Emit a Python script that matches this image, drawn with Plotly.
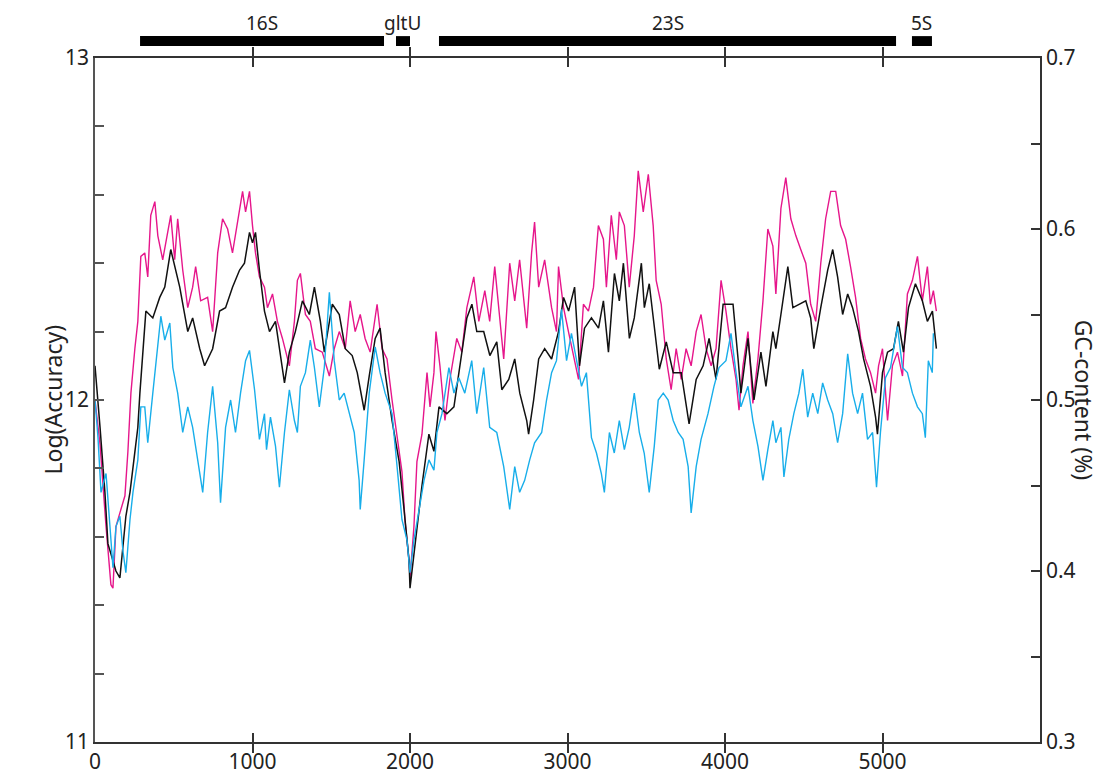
import plotly.graph_objects as go

# ---------------- data ----------------
black_x = [0, 6, 32, 63, 82, 114, 133, 158, 177, 196, 222, 241, 272, 285, 323, 367, 411, 443, 481, 538,
           589, 620, 665, 696, 747, 791, 829, 873, 918, 949, 981, 1000, 1019, 1044, 1076, 1108, 1146, 1203, 1234, 1272,
           1317, 1361, 1393, 1431, 1456, 1507, 1551, 1589, 1633, 1665, 1709, 1741, 1779, 1810, 1842, 1886, 1931, 1962, 1994, 2000,
           2032, 2076, 2120, 2152, 2184, 2234, 2279, 2317, 2361, 2393, 2424, 2468, 2507, 2551, 2583, 2627, 2665, 2697, 2741, 2753,
           2785, 2817, 2855, 2899, 2943, 2975, 3007, 3045, 3076, 3108, 3152, 3197, 3228, 3260, 3298, 3329, 3355, 3393, 3424, 3469,
           3488, 3519, 3551, 3583, 3627, 3671, 3722, 3772, 3817, 3861, 3899, 3943, 3988, 4051, 4083, 4101, 4146, 4184, 4228, 4260,
           4304, 4323, 4355, 4399, 4431, 4469, 4513, 4544, 4564, 4608, 4652, 4684, 4715, 4747, 4779, 4810, 4848, 4880, 4924, 4956,
           4968, 5000, 5032, 5070, 5101, 5133, 5165, 5209, 5253, 5285, 5317, 5342]
black_y = [12.10, 12.07, 11.92, 11.73, 11.58, 11.53, 11.50, 11.48, 11.58, 11.66, 11.73, 11.80, 11.92, 12.02, 12.26, 12.24, 12.30, 12.33, 12.44, 12.33,
           12.20, 12.24, 12.15, 12.10, 12.15, 12.26, 12.27, 12.33, 12.38, 12.40, 12.49, 12.46, 12.49, 12.38, 12.26, 12.20, 12.23, 12.05, 12.14, 12.20,
           12.29, 12.25, 12.33, 12.23, 12.14, 12.28, 12.25, 12.15, 12.13, 12.08, 11.97, 12.07, 12.18, 12.21, 12.08, 11.94, 11.82, 11.68, 11.53, 11.45,
           11.58, 11.75, 11.90, 11.85, 11.98, 11.96, 11.98, 12.10, 12.24, 12.28, 12.20, 12.20, 12.13, 12.17, 12.03, 12.06, 12.12, 12.02, 11.94, 11.90,
           12.00, 12.12, 12.15, 12.12, 12.20, 12.30, 12.26, 12.33, 12.10, 12.21, 12.24, 12.21, 12.29, 12.14, 12.37, 12.29, 12.40, 12.18, 12.24, 12.40,
           12.27, 12.34, 12.21, 12.09, 12.17, 12.08, 12.08, 11.93, 12.06, 12.10, 12.18, 12.06, 12.28, 12.28, 12.12, 12.02, 12.18, 12.00, 12.14, 12.04,
           12.20, 12.15, 12.25, 12.39, 12.27, 12.28, 12.29, 12.24, 12.15, 12.27, 12.38, 12.44, 12.36, 12.25, 12.31, 12.27, 12.20, 12.12, 12.04, 11.95,
           11.90, 12.08, 12.14, 12.15, 12.23, 12.14, 12.27, 12.34, 12.29, 12.23, 12.26, 12.15]

magenta_x = [0, 32, 70, 101, 114, 133, 158, 190, 209, 228, 253, 272, 291, 316, 335, 354, 380, 399, 430, 462,
             481, 506, 525, 557, 589, 620, 639, 671, 715, 747, 779, 810, 842, 873, 918, 937, 956, 981, 1000, 1019,
             1044, 1076, 1095, 1127, 1158, 1190, 1234, 1266, 1285, 1304, 1336, 1367, 1399, 1443, 1488, 1519, 1551, 1589, 1620, 1652,
             1684, 1715, 1747, 1791, 1823, 1854, 1886, 1918, 1949, 1968, 1994, 2000, 2025, 2044, 2076, 2108, 2127, 2152, 2165, 2190,
             2222, 2253, 2297, 2329, 2361, 2405, 2437, 2475, 2506, 2538, 2570, 2595, 2633, 2665, 2696, 2741, 2772, 2791, 2817, 2855,
             2899, 2930, 2943, 2975, 3006, 3070, 3101, 3133, 3165, 3196, 3228, 3247, 3278, 3310, 3329, 3361, 3392, 3424, 3449, 3481,
             3513, 3544, 3563, 3595, 3627, 3658, 3690, 3722, 3753, 3785, 3817, 3848, 3880, 3912, 3943, 3975, 4006, 4038, 4070, 4089,
             4114, 4146, 4177, 4209, 4241, 4272, 4304, 4323, 4355, 4386, 4418, 4450, 4481, 4513, 4544, 4576, 4608, 4639, 4671, 4703,
             4734, 4766, 4797, 4829, 4861, 4892, 4924, 4956, 4975, 5000, 5032, 5063, 5095, 5127, 5158, 5190, 5222, 5253, 5285, 5304,
             5323, 5342]
magenta_y = [12.00, 11.87, 11.63, 11.46, 11.45, 11.63, 11.67, 11.72, 11.85, 12.02, 12.15, 12.23, 12.42, 12.43, 12.36, 12.54, 12.58, 12.48, 12.41, 12.50,
             12.54, 12.41, 12.53, 12.38, 12.27, 12.33, 12.39, 12.29, 12.30, 12.20, 12.43, 12.53, 12.50, 12.43, 12.55, 12.61, 12.55, 12.61, 12.51, 12.43,
             12.36, 12.33, 12.27, 12.31, 12.23, 12.18, 12.10, 12.23, 12.35, 12.37, 12.25, 12.23, 12.15, 12.14, 12.07, 12.15, 12.20, 12.15, 12.29, 12.20,
             12.25, 12.18, 12.14, 12.28, 12.15, 12.12, 12.00, 11.90, 11.79, 11.65, 11.53, 11.48, 11.63, 11.82, 11.90, 12.08, 11.98, 12.08, 12.20, 12.10,
             11.94, 12.06, 12.18, 12.14, 12.27, 12.36, 12.23, 12.32, 12.23, 12.39, 12.25, 12.12, 12.40, 12.29, 12.41, 12.21, 12.43, 12.52, 12.33, 12.41,
             12.27, 12.20, 12.39, 12.27, 12.20, 12.06, 12.28, 12.26, 12.33, 12.51, 12.47, 12.33, 12.54, 12.41, 12.55, 12.51, 12.33, 12.48, 12.67, 12.55,
             12.66, 12.51, 12.35, 12.28, 12.12, 12.03, 12.15, 12.06, 12.15, 12.10, 12.20, 12.25, 12.15, 12.10, 12.15, 12.35, 12.26, 12.15, 12.06, 11.97,
             12.10, 12.20, 11.99, 12.12, 12.29, 12.50, 12.45, 12.31, 12.56, 12.65, 12.53, 12.48, 12.44, 12.40, 12.28, 12.23, 12.40, 12.53, 12.61, 12.61,
             12.51, 12.47, 12.39, 12.30, 12.18, 12.12, 12.08, 12.02, 12.10, 12.15, 11.94, 12.10, 12.14, 12.07, 12.31, 12.35, 12.42, 12.29, 12.39, 12.28,
             12.32, 12.26]

cyan_x = [0, 19, 38, 70, 95, 114, 133, 158, 177, 196, 222, 241, 272, 291, 316, 335, 367, 399, 418, 443,
          475, 494, 525, 557, 589, 620, 652, 684, 715, 747, 779, 797, 829, 861, 892, 924, 956, 981, 1013, 1044,
          1076, 1089, 1114, 1146, 1171, 1203, 1234, 1266, 1285, 1304, 1336, 1367, 1393, 1424, 1456, 1488, 1519, 1551, 1582, 1614,
          1646, 1677, 1684, 1709, 1741, 1779, 1810, 1842, 1886, 1918, 1949, 1981, 2000, 2025, 2057, 2089, 2120, 2152, 2171, 2203,
          2247, 2279, 2310, 2348, 2392, 2424, 2468, 2506, 2551, 2595, 2633, 2665, 2696, 2728, 2760, 2791, 2836, 2867, 2899, 2930,
          2962, 2994, 3025, 3057, 3089, 3120, 3152, 3184, 3215, 3234, 3266, 3297, 3329, 3361, 3392, 3424, 3456, 3487, 3519, 3551,
          3576, 3608, 3639, 3671, 3703, 3734, 3766, 3785, 3817, 3848, 3892, 3930, 3962, 4006, 4038, 4070, 4101, 4146, 4177, 4209,
          4241, 4272, 4304, 4323, 4355, 4374, 4405, 4437, 4469, 4494, 4525, 4557, 4589, 4620, 4652, 4684, 4715, 4747, 4779, 4810,
          4842, 4873, 4905, 4937, 4962, 4987, 5019, 5051, 5095, 5127, 5158, 5190, 5222, 5253, 5272, 5291, 5316, 5323]
cyan_y = [0.500, 0.478, 0.446, 0.457, 0.426, 0.402, 0.426, 0.432, 0.412, 0.399, 0.430, 0.446, 0.465, 0.496, 0.496, 0.475, 0.504, 0.531, 0.549, 0.535,
          0.545, 0.519, 0.504, 0.481, 0.496, 0.484, 0.465, 0.446, 0.481, 0.508, 0.475, 0.440, 0.484, 0.500, 0.481, 0.504, 0.523, 0.529, 0.506, 0.477,
          0.492, 0.471, 0.490, 0.473, 0.449, 0.481, 0.506, 0.488, 0.481, 0.508, 0.516, 0.535, 0.519, 0.496, 0.519, 0.563, 0.523, 0.500, 0.504, 0.492,
          0.481, 0.453, 0.436, 0.465, 0.504, 0.531, 0.516, 0.504, 0.492, 0.461, 0.430, 0.418, 0.399, 0.418, 0.436, 0.453, 0.465, 0.459, 0.481, 0.492,
          0.519, 0.504, 0.513, 0.504, 0.523, 0.492, 0.519, 0.484, 0.481, 0.461, 0.436, 0.461, 0.446, 0.453, 0.465, 0.475, 0.481, 0.500, 0.516, 0.523,
          0.553, 0.523, 0.539, 0.523, 0.508, 0.516, 0.478, 0.469, 0.457, 0.446, 0.481, 0.469, 0.488, 0.471, 0.484, 0.504, 0.481, 0.469, 0.446, 0.473,
          0.500, 0.504, 0.500, 0.488, 0.481, 0.477, 0.461, 0.434, 0.461, 0.477, 0.492, 0.508, 0.519, 0.523, 0.539, 0.516, 0.496, 0.508, 0.488, 0.473,
          0.453, 0.471, 0.488, 0.475, 0.484, 0.455, 0.477, 0.492, 0.504, 0.518, 0.490, 0.504, 0.492, 0.510, 0.500, 0.492, 0.475, 0.492, 0.527, 0.504,
          0.492, 0.504, 0.477, 0.481, 0.449, 0.481, 0.513, 0.519, 0.543, 0.519, 0.516, 0.504, 0.496, 0.492, 0.478, 0.523, 0.516, 0.539]

gene_names = ["16S", "gltU", "23S", "5S"]
gene_start = [286, 1911, 2184, 5187]
gene_end = [1835, 2000, 5086, 5314]

x_ticks = [0, 1000, 2000, 3000, 4000, 5000]
left_ticks = [11, 12, 13]
right_ticks = [0.3, 0.4, 0.5, 0.6, 0.7]

# ---------------- figure ----------------
FONT = "Noto Sans"
AX = "#333333"

fig = go.Figure()
fig.add_trace(go.Scatter(x=magenta_x, y=magenta_y, mode="lines", name="magenta",
                         line=dict(color="#E6168B", width=1.4), showlegend=False))
fig.add_trace(go.Scatter(x=black_x, y=black_y, mode="lines", name="black",
                         line=dict(color="#111111", width=1.5), showlegend=False))
fig.add_trace(go.Scatter(x=cyan_x, y=cyan_y, mode="lines", name="cyan", yaxis="y2",
                         line=dict(color="#18AEEA", width=1.4), showlegend=False))

# gene bars above the plot
for name, s, e in zip(gene_names, gene_start, gene_end):
    fig.add_shape(type="rect", xref="x", yref="paper", x0=s, x1=e, y0=1.0175, y1=1.032,
                  fillcolor="black", line=dict(width=0))
    fig.add_annotation(x=(s + e) / 2, xref="x", y=1.0515, yref="paper", text=name, showarrow=False,
                       font=dict(family=FONT, size=19, color="#222"), yanchor="middle", borderpad=0)

fig.add_annotation(x=-0.064, xref="paper", y=0.5, yref="paper", text="Log(Accuracy)", textangle=-90,
                   showarrow=False, font=dict(family=FONT, size=23, color="#222"))
fig.add_annotation(x=1.066, xref="paper", y=0.5, yref="paper", text="GC-content (%)", textangle=90,
                   showarrow=False, font=dict(family=FONT, size=23, color="#222"))

# the page body adds an 8 px offset, so the figure is 8 px smaller on each axis
fig.update_layout(
    width=1112, height=772,
    margin=dict(l=87, r=80, t=50, b=38, autoexpand=False),
    plot_bgcolor="white", paper_bgcolor="white",
    font=dict(family=FONT, size=21, color="#222"),
    xaxis=dict(range=[0, 6000], tickvals=x_ticks, ticks="inside", ticklen=9, tickwidth=1.5,
               tickcolor=AX, showline=True, linecolor=AX, linewidth=1.5, mirror="allticks",
               showgrid=False, zeroline=False, automargin=False),
    yaxis=dict(range=[11, 13], tickvals=left_ticks, ticks="inside", ticklen=9, tickwidth=1.5,
               tickcolor="#555", showline=True, linecolor="#555", linewidth=1.5,
               showgrid=False, zeroline=False, automargin=False,
               minor=dict(dtick=0.2, ticks="inside", ticklen=9, tickwidth=1.5, tickcolor="#555", showgrid=False)),
    yaxis2=dict(range=[0.3, 0.7], tickvals=right_ticks, overlaying="y", side="right", ticks="inside",
                ticklen=9, tickwidth=1.5, tickcolor=AX, showline=True, linecolor=AX, linewidth=1.5,
                showgrid=False, zeroline=False, tickformat=".1f", automargin=False,
                minor=dict(dtick=0.05, ticks="inside", ticklen=9, tickwidth=1.5, tickcolor=AX, showgrid=False)),
)

fig.write_html("out.html")
